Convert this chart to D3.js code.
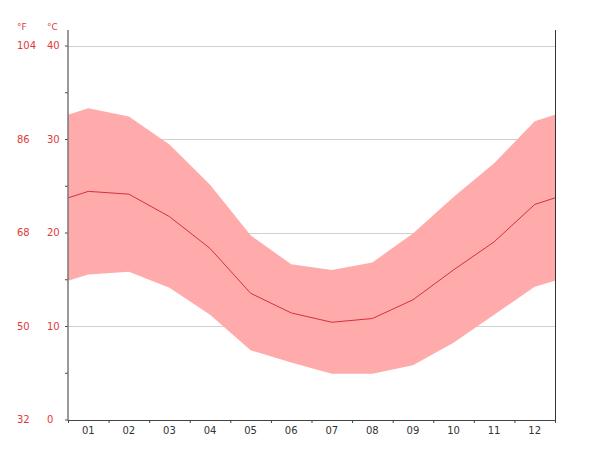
<!DOCTYPE html>
<html><head><meta charset="utf-8">
<script src="https://cdn.jsdelivr.net/npm/d3@7"></script>
<style>body{margin:0;background:#fff;}svg{display:block;font-family:"DejaVu Sans",sans-serif;}</style>
</head><body>
<svg id="c" width="600" height="450"></svg>
<script>
const months = ["01","02","03","04","05","06","07","08","09","10","11","12"];
const tMax  = [33.3,32.4,29.4,25.1,19.7,16.6,16.0,16.8,19.9,23.8,27.4,31.9];
const tMean = [24.4,24.1,21.7,18.3,13.5,11.4,10.4,10.8,12.8,16.0,19.0,23.0];
const tMin  = [15.5,15.8,14.1,11.2,7.4,6.1,4.9,4.9,5.8,8.2,11.2,14.2];
const cTicks = [0,10,20,30,40];
const fTicks = ["32","50","68","86","104"];

const svg = d3.select("#c");
const L = 68, R = 555, T = 45.5, B = 419.5;
const x = d3.scaleLinear().domain([0,12]).range([L,R]);
const y = d3.scaleLinear().domain([0,40]).range([B,T]);

// build series with wrap-around edges
function series(arr){
  const edge = (arr[0]+arr[11])/2;
  const pts = [{i:0,v:edge}];
  arr.forEach((v,k)=>pts.push({i:k+0.5,v}));
  pts.push({i:12,v:edge});
  return pts;
}
const sMax = series(tMax), sMin = series(tMin), sMean = series(tMean);

// gridlines
svg.append("g").selectAll("line").data(cTicks.filter(d=>d>0)).join("line")
  .attr("x1",L).attr("x2",R).attr("y1",d=>Math.round(y(d))+0.5).attr("y2",d=>Math.round(y(d))+0.5)
  .attr("stroke","#d0d0d0").attr("stroke-width",1);

// band
const band = sMax.map((d,k)=>({i:d.i,hi:d.v,lo:sMin[k].v}));
svg.append("path").datum(band)
  .attr("d", d3.area().x(d=>x(d.i)).y0(d=>y(d.lo)).y1(d=>y(d.hi)))
  .attr("fill","#ffabab");

// mean line
svg.append("path").datum(sMean)
  .attr("d", d3.line().x(d=>x(d.i)).y(d=>y(d.v)))
  .attr("fill","none").attr("stroke","#d6303a").attr("stroke-width",1);

// left axis
const yAxis = d3.axisLeft(y).tickValues(d3.range(0,41,5)).tickSize(3).tickFormat("");
const gy = svg.append("g").attr("transform",`translate(${L},0)`).call(yAxis);
gy.select(".domain").remove();
gy.selectAll(".tick line").attr("stroke","#444");
svg.append("line").attr("x1",L).attr("x2",L).attr("y1",30).attr("y2",B+1)
  .attr("stroke","#777").attr("stroke-width",1.5);
svg.append("line").attr("x1",R+0.5).attr("x2",R+0.5).attr("y1",30).attr("y2",B+1)
  .attr("stroke","#333").attr("stroke-width",1);

// y labels
svg.append("g").selectAll("text").data(cTicks).join("text")
  .attr("x",47).attr("y",d=>y(d)+3.5).attr("font-size",10).attr("fill","#e03a3a").text(d=>d);
svg.append("g").selectAll("text").data(fTicks).join("text")
  .attr("x",17).attr("y",(d,k)=>y(cTicks[k])+3.5).attr("font-size",10).attr("fill","#e03a3a").text(d=>d);
svg.append("text").attr("x",17).attr("y",30).attr("font-size",9).attr("fill","#e03a3a").text("°F");
svg.append("text").attr("x",47).attr("y",30).attr("font-size",9).attr("fill","#e03a3a").text("°C");

// bottom axis
const xb = d3.scaleBand().domain(months).range([L,R]);
const xAxis = d3.axisBottom(x).tickValues(d3.range(0,13)).tickSize(3).tickFormat("");
const gx = svg.append("g").attr("transform",`translate(0,${B+0.5})`).call(xAxis);
gx.select(".domain").attr("stroke","#444");
gx.selectAll(".tick line").attr("stroke","#444");
svg.append("g").selectAll("text").data(months).join("text")
  .attr("x",d=>xb(d)+xb.bandwidth()/2).attr("y",B+14).attr("text-anchor","middle")
  .attr("font-size",10).attr("fill","#333").text(d=>d);
</script>
</body></html>
